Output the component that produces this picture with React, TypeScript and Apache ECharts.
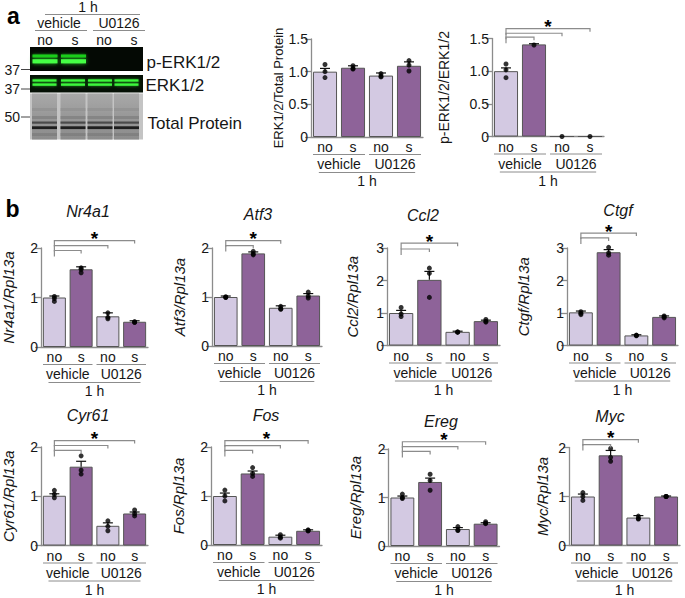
import React, { useEffect, useRef } from "react";
import * as echarts from "echarts";

// ---------- data ----------
const barLabels = ["no", "s", "no", "s"];
const treatmentLabels = ["vehicle", "U0126"];
const timeLabel = "1 h";
const blotBands = ["p-ERK1/2", "ERK1/2", "Total Protein"];
const markerLabels = ["37", "37", "50"];

const erkTotalMean = [1.0, 1.06, 0.94, 1.09];
const erkTotalSem = [0.05, 0.03, 0.04, 0.06];
const erkTotalDots = [[1.11, 1.0, 0.91], [1.09, 1.05, 1.04], [0.97, 0.93, 0.92], [1.17, 1.1, 1.01]];
const erkTotalCompare: number[][] = [];

const perkMean = [1.0, 1.41, 0, 0];
const perkSem = [0.05, 0.01, 0, 0];
const perkDots = [[1.11, 1.02, 0.9], [1.4], [0], [0]];
const perkCompare = [[1, 1.52], [2, 1.58], [3, 1.65]];

const nr4a1Mean = [1.0, 1.57, 0.62, 0.51];
const nr4a1Sem = [0.03, 0.05, 0.07, 0.02];
const nr4a1Dots = [[1.02, 0.98, 0.92], [1.6, 1.57, 1.5], [0.69, 0.6, 0.57], [0.51, 0.5, 0.5]];
const nr4a1Compare = [[1, 1.95], [2, 2.05], [3, 2.15]];

const atf3Mean = [1.0, 1.89, 0.78, 1.03];
const atf3Sem = [0.02, 0.03, 0.04, 0.04];
const atf3Dots = [[1.0, 1.0, 0.99], [1.93, 1.88, 1.86], [0.81, 0.76, 0.75], [1.1, 1.02, 0.98]];
const atf3Compare = [[1, 2.05], [2, 2.15]];

const ccl2Mean = [1.0, 2.02, 0.42, 0.75];
const ccl2Sem = [0.08, 0.26, 0.02, 0.03];
const ccl2Dots = [[1.17, 0.97, 0.89], [2.38, 2.22, 1.48], [0.42, 0.41, 0.41], [0.8, 0.74, 0.72]];
const ccl2Compare = [[1, 2.97], [2, 3.15]];

const ctgfMean = [1.02, 2.87, 0.31, 0.88];
const ctgfSem = [0.04, 0.08, 0.02, 0.03];
const ctgfDots = [[1.04, 0.99, 0.95], [3.02, 2.85, 2.78], [0.32, 0.31, 0.3], [0.91, 0.88, 0.85]];
const ctgfCompare = [[1, 3.31], [2, 3.46]];

const cyr61Mean = [1.01, 1.6, 0.4, 0.65];
const cyr61Sem = [0.04, 0.11, 0.06, 0.03];
const cyr61Dots = [[1.12, 1.04, 0.97], [1.82, 1.53, 1.45], [0.5, 0.39, 0.3], [0.72, 0.65, 0.6]];
const cyr61Compare = [[1, 1.93], [2, 2.03], [3, 2.13]];

const fosMean = [1.0, 1.46, 0.17, 0.29];
const fosSem = [0.06, 0.05, 0.03, 0.02];
const fosDots = [[1.12, 1.0, 0.9], [1.58, 1.46, 1.4], [0.21, 0.16, 0.14], [0.31, 0.29, 0.29]];
const fosCompare = [[1, 1.93], [2, 2.03], [3, 2.13]];

const eregMean = [1.0, 1.32, 0.35, 0.46];
const eregSem = [0.03, 0.08, 0.03, 0.02];
const eregDots = [[1.07, 1.0, 0.98], [1.48, 1.35, 1.15], [0.4, 0.32, 0.33], [0.5, 0.47, 0.46]];
const eregCompare = [[1, 1.95], [2, 2.05], [3, 2.15]];

const mycMean = [1.0, 1.84, 0.57, 1.0];
const mycSem = [0.05, 0.1, 0.04, 0.01];
const mycDots = [[1.08, 1.0, 0.92], [1.98, 1.8, 1.72], [0.6, 0.55, 0.54], [1.0, 1.0, 1.0]];
const mycCompare = [[1, 2.06], [2, 2.16]];

const specs = [
  { gene: "", yTitle: "ERK1/2/Total Protein", mean: erkTotalMean, sem: erkTotalSem, dots: erkTotalDots, compare: erkTotalCompare, yMax: 1.5, yStep: 0.5 },
  { gene: "", yTitle: "p-ERK1/2/ERK1/2", mean: perkMean, sem: perkSem, dots: perkDots, compare: perkCompare, yMax: 1.5, yStep: 0.5 },
  { gene: "Nr4a1", yTitle: "Nr4a1/Rpl13a", mean: nr4a1Mean, sem: nr4a1Sem, dots: nr4a1Dots, compare: nr4a1Compare, yMax: 2, yStep: 1 },
  { gene: "Atf3", yTitle: "Atf3/Rpl13a", mean: atf3Mean, sem: atf3Sem, dots: atf3Dots, compare: atf3Compare, yMax: 2, yStep: 1 },
  { gene: "Ccl2", yTitle: "Ccl2/Rpl13a", mean: ccl2Mean, sem: ccl2Sem, dots: ccl2Dots, compare: ccl2Compare, yMax: 3, yStep: 1 },
  { gene: "Ctgf", yTitle: "Ctgf/Rpl13a", mean: ctgfMean, sem: ctgfSem, dots: ctgfDots, compare: ctgfCompare, yMax: 3, yStep: 1 },
  { gene: "Cyr61", yTitle: "Cyr61/Rpl13a", mean: cyr61Mean, sem: cyr61Sem, dots: cyr61Dots, compare: cyr61Compare, yMax: 2, yStep: 1 },
  { gene: "Fos", yTitle: "Fos/Rpl13a", mean: fosMean, sem: fosSem, dots: fosDots, compare: fosCompare, yMax: 2, yStep: 1 },
  { gene: "Ereg", yTitle: "Ereg/Rpl13a", mean: eregMean, sem: eregSem, dots: eregDots, compare: eregCompare, yMax: 2, yStep: 1 },
  { gene: "Myc", yTitle: "Myc/Rpl13a", mean: mycMean, sem: mycSem, dots: mycDots, compare: mycCompare, yMax: 2, yStep: 1 },
];

// ---------- layout (pixels) ----------
const layouts = [
  { left: 311, top: 39, width: 112, height: 98, nameGap: 26, nameSize: 13, italic: false, tx: 0, ty: 0 },
  { left: 492, top: 38.5, width: 112, height: 98, nameGap: 41, nameSize: 14, italic: false, tx: 0, ty: 0 },
  { left: 41, top: 248, width: 107, height: 99, nameGap: 25, nameSize: 15, italic: true, tx: 88, ty: 211 },
  { left: 212, top: 248, width: 110, height: 98, nameGap: 25.5, nameSize: 15, italic: true, tx: 258, ty: 214 },
  { left: 387, top: 248, width: 113, height: 97.5, nameGap: 27.5, nameSize: 15, italic: true, tx: 423, ty: 215 },
  { left: 567, top: 248, width: 111, height: 97.5, nameGap: 36.5, nameSize: 15, italic: true, tx: 618, ty: 210 },
  { left: 39.5, top: 447, width: 108.5, height: 98.5, nameGap: 25, nameSize: 15, italic: true, tx: 88, ty: 415 },
  { left: 211, top: 447, width: 111, height: 98, nameGap: 25, nameSize: 15, italic: true, tx: 266, ty: 415 },
  { left: 388.5, top: 449, width: 111, height: 97, nameGap: 25.5, nameSize: 15, italic: true, tx: 441, ty: 421.5 },
  { left: 569, top: 447.5, width: 111, height: 98, nameGap: 19, nameSize: 15, italic: true, tx: 610, ty: 416.5 },
];

const FONT = "'Liberation Sans', Arial, Helvetica, sans-serif";
const LIGHT = "#d3c9e2";
const DARK = "#8e6399";
const GRAYLINE = "#8c8c8c";
const TEXT = "#161616";

function txt(x: number, y: number, text: string, size: number, extra: any = {}) {
  const align = extra.align || "center";
  return {
    type: "text",
    x,
    y,
    silent: true,
    style: {
      text,
      fill: extra.fill || TEXT,
      fontSize: size,
      fontFamily: FONT,
      fontWeight: extra.fontWeight || "normal",
      fontStyle: extra.fontStyle || "normal",
      align,
      verticalAlign: "middle",
      textAlign: align,
      textVerticalAlign: "middle",
    },
  };
}
function ln(x1: number, y1: number, x2: number, y2: number, color = GRAYLINE, w = 1) {
  return { type: "line", silent: true, shape: { x1, y1, x2, y2 }, style: { stroke: color, lineWidth: w } };
}
function rc(x: number, y: number, w: number, h: number, fill: any, extra: any = {}) {
  return { type: "rect", silent: true, shape: { x, y, width: w, height: h }, style: { fill, ...extra } };
}

function buildBlot() {
  const els: any[] = [];
  // header
  els.push(txt(88, 7, timeLabel, 14));
  els.push(ln(45, 14.5, 140, 14.5));
  els.push(txt(59, 23, treatmentLabels[0], 14));
  els.push(txt(119, 23, treatmentLabels[1], 14));
  els.push(ln(35, 30.5, 87, 30.5));
  els.push(ln(93, 30.5, 145, 30.5));
  const laneX = [45, 75, 104, 134];
  barLabels.forEach((l, i) => els.push(txt(laneX[i], 40, l, 14)));

  // p-ERK panel
  els.push(rc(30, 47, 113, 24, "#040904"));
  const lanes = [32.5, 61, 88, 114.5];
  [0, 1].forEach((i) => {
    els.push(rc(lanes[i], 54.5, 25, 3, "#1fcf1f", { shadowBlur: 3, shadowColor: "#1a9a1a" }));
    els.push(rc(lanes[i], 59.2, 25, 4.2, "#44ff44", { shadowBlur: 4, shadowColor: "#22bb22" }));
  });
  // ERK panel
  els.push(rc(30, 75, 113, 17.5, "#051005"));
  lanes.forEach((x) => {
    els.push(rc(x, 79.3, 24, 2.4, "#3cf53c", { shadowBlur: 3, shadowColor: "#20a020" }));
    els.push(rc(x, 83.4, 24, 2.4, "#3cf53c", { shadowBlur: 3, shadowColor: "#20a020" }));
  });
  // Total protein panel
  els.push(rc(30, 93.5, 113, 46, "#c4c4c4"));
  lanes.forEach((x) => {
    els.push(
      rc(x - 0.5, 93.5, 25, 46, {
        type: "linear", x: 0, y: 0, x2: 0, y2: 1,
        colorStops: [
          { offset: 0, color: "#a9a9a9" },
          { offset: 0.5, color: "#989898" },
          { offset: 1, color: "#8c8c8c" },
        ],
      })
    );
    els.push(rc(x - 0.5, 108, 25, 3, "#8e8e8e", { opacity: 0.6 }));
    els.push(rc(x - 0.5, 116, 25, 3, "#7e7e7e", { opacity: 0.7 }));
    els.push(rc(x - 0.5, 121.5, 25, 2.2, "#4a4a4a"));
    els.push(rc(x - 0.5, 126.3, 25, 2.8, "#1e1e1e"));
    els.push(rc(x - 0.5, 133, 25, 3, "#7a7a7a", { opacity: 0.7 }));
  });
  // band labels
  els.push(txt(146.5, 62, blotBands[0], 17, { align: "left" }));
  els.push(txt(145.5, 85, blotBands[1], 17, { align: "left" }));
  els.push(txt(147.5, 123, blotBands[2], 17, { align: "left" }));
  // markers
  const my = [69.5, 89, 117];
  markerLabels.forEach((m, i) => {
    els.push(txt(20, my[i], m, 14, { align: "right" }));
    els.push(ln(21, my[i], 30, my[i], "#444"));
  });
  // panel letters
  els.push(txt(13.5, 16, "a", 23, { fontWeight: "bold", fill: "#000" }));
  els.push(txt(12.5, 209, "b", 23, { fontWeight: "bold", fill: "#000" }));
  // gene titles
  specs.forEach((s, i) => {
    if (s.gene) els.push(txt(layouts[i].tx, layouts[i].ty, s.gene, 16, { fontStyle: "italic" }));
  });
  return els;
}

function buildOption() {
  const grid: any[] = [];
  const xAxis: any[] = [];
  const yAxis: any[] = [];
  const series: any[] = [];
  specs.forEach((s, i) => {
    const L = layouts[i];
    const isErk = s.yMax === 1.5;
    grid.push({ left: L.left, top: L.top, width: L.width, height: L.height });
    xAxis.push({
      type: "category",
      gridIndex: i,
      data: barLabels,
      axisLine: { lineStyle: { color: GRAYLINE, width: 1.3 } },
      axisTick: { show: false },
      axisLabel: { fontSize: 14, color: TEXT, margin: 3, fontFamily: FONT, interval: 0 },
    });
    yAxis.push({
      type: "value",
      gridIndex: i,
      min: 0,
      max: s.yMax,
      interval: s.yStep,
      axisLine: { show: true, lineStyle: { color: GRAYLINE, width: 1.3 } },
      axisTick: { show: true, length: 6, lineStyle: { color: GRAYLINE, width: 1.3 } },
      splitLine: { show: false },
      axisLabel: {
        fontSize: 14,
        color: TEXT,
        margin: 3,
        fontFamily: FONT,
        formatter: (v: number) => (v === 0 ? "0" : isErk ? v.toFixed(1) : String(v)),
      },
      name: s.yTitle,
      nameLocation: "middle",
      nameRotate: 90,
      nameGap: L.nameGap,
      nameTextStyle: {
        fontSize: L.nameSize,
        fontStyle: L.italic ? "italic" : "normal",
        color: TEXT,
        fontFamily: FONT,
      },
    });
    series.push({
      type: "bar",
      xAxisIndex: i,
      yAxisIndex: i,
      barCategoryGap: "14%",
      z: 2,
      data: s.mean.map((m, j) => ({
        value: m,
        itemStyle: { color: j % 2 === 0 ? LIGHT : DARK, borderColor: "#555", borderWidth: 1 },
      })),
    });
    series.push({
      type: "custom",
      xAxisIndex: i,
      yAxisIndex: i,
      z: 3,
      clip: false,
      data: s.mean.map((m, j) => [j, m, m + s.sem[j]]),
      encode: { x: 0, y: [1, 2] },
      renderItem: (p: any, api: any) => {
        if (api.value(2) - api.value(1) <= 0) return { type: "group", children: [] };
        const b = api.coord([api.value(0), api.value(1)]);
        const t = api.coord([api.value(0), api.value(2)]);
        const cap = 5;
        return {
          type: "group",
          children: [
            { type: "line", shape: { x1: b[0], y1: b[1], x2: t[0], y2: t[1] }, style: { stroke: "#111", lineWidth: 1.2 } },
            { type: "line", shape: { x1: t[0] - cap, y1: t[1], x2: t[0] + cap, y2: t[1] }, style: { stroke: "#111", lineWidth: 1.2 } },
          ],
        };
      },
    });
    series.push({
      type: "scatter",
      xAxisIndex: i,
      yAxisIndex: i,
      z: 4,
      symbolSize: 5,
      itemStyle: { color: "#000" },
      clip: false,
      data: s.dots.flatMap((arr, j) => arr.map((v) => [j, v])),
    });
    // significance brackets
    if (s.compare.length) {
      const maxLevel = Math.max(...s.compare.map((c) => c[1]));
      series.push({
        type: "custom",
        xAxisIndex: i,
        yAxisIndex: i,
        z: 5,
        clip: false,
        data: s.compare.map((c) => [0, c[0], c[1]]),
        encode: { x: [0, 1], y: 2 },
        renderItem: (p: any, api: any) => {
          const l = api.coord([api.value(0), api.value(2)]);
          const r = api.coord([api.value(1), api.value(2)]);
          const children: any[] = [
            {
              type: "polyline",
              shape: { points: [[l[0], l[1] + 6], [l[0], l[1]], [r[0], r[1]], [r[0], r[1] + 3]] },
              style: { stroke: GRAYLINE, lineWidth: 1.2, fill: "none" },
            },
          ];
          if (api.value(2) === maxLevel) {
            children.push(txt((l[0] + r[0]) / 2, l[1] - 2, "*", 19, { fontWeight: "bold", fill: "#000" }));
          }
          return { type: "group", children };
        },
      });
    }
    // group labels under axis
    const groupDefs = [
      [0, 1, 1, treatmentLabels[0]],
      [2, 3, 1, treatmentLabels[1]],
      [0, 3, 2, timeLabel],
    ];
    series.push({
      type: "custom",
      xAxisIndex: i,
      yAxisIndex: i,
      z: 5,
      clip: false,
      data: groupDefs.map((g) => [g[0], 0]),
      encode: { x: 0, y: 1 },
      renderItem: (p: any, api: any) => {
        const g: any = groupDefs[p.dataIndex];
        const a = api.coord([g[0], 0]);
        const b = api.coord([g[1], 0]);
        const band = api.size([1, 0])[0];
        const y0 = a[1];
        const mid = (a[0] + b[0]) / 2;
        if (g[2] === 1) {
          return {
            type: "group",
            children: [
              ln(a[0] - band / 2 + 2, y0 + 17.5, b[0] + band / 2 - 2, y0 + 17.5),
              txt(mid, y0 + 27, g[3], 14),
            ],
          };
        }
        return {
          type: "group",
          children: [
            ln(a[0] - band * 0.22, y0 + 35.5, b[0] + band * 0.22, y0 + 35.5),
            txt(mid, y0 + 44, g[3], 14),
          ],
        };
      },
    });
  });
  return {
    animation: false,
    backgroundColor: "#ffffff",
    textStyle: { fontFamily: FONT },
    grid,
    xAxis,
    yAxis,
    series,
    graphic: { elements: buildBlot() },
  };
}

export default function App() {
  const ref = useRef<HTMLDivElement>(null);
  useEffect(() => {
    document.body.style.margin = "0";
    if (!ref.current) return;
    const chart = echarts.init(ref.current, undefined, { renderer: "svg" });
    chart.setOption(buildOption() as any);
    return () => chart.dispose();
  }, []);
  return <div ref={ref} style={{ width: 685, height: 598 }} />;
}
